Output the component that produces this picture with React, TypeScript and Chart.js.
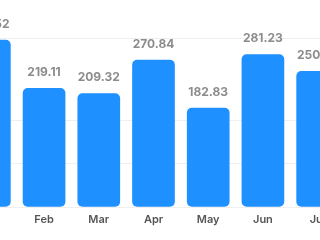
import React, { useEffect, useRef } from "react";
import { Chart, registerables } from "chart.js";

Chart.register(...registerables);

const months = ["Jan", "Feb", "Mar", "Apr", "May", "Jun", "Jul"];
const values = [307.52, 219.11, 209.32, 270.84, 182.83, 281.23, 250.37];
const yMax = 310;
const gridValues = [0, 80, 160, 310];

const valueLabels = {
  id: "valueLabels",
  afterDatasetsDraw(chart: any) {
    const ctx = chart.ctx;
    const meta = chart.getDatasetMeta(0);
    ctx.save();
    ctx.font = "700 12px Inter, 'Open Sans', sans-serif";
    ctx.fillStyle = "#8c8c8c";
    ctx.textAlign = "center";
    ctx.textBaseline = "middle";
    meta.data.forEach((bar: any, i: number) => {
      ctx.fillText(values[i].toFixed(2), bar.x, bar.y - 15.5);
    });
    ctx.restore();
  },
};

export default function App() {
  const ref = useRef<HTMLCanvasElement>(null);
  useEffect(() => {
    if (!ref.current) return;
    const chart = new Chart(ref.current, {
      type: "bar",
      data: {
        labels: months,
        datasets: [
          {
            data: values,
            backgroundColor: "#1e90ff",
            borderRadius: 5,
            borderSkipped: false,
            barPercentage: 1,
            categoryPercentage: 0.78,
          },
        ],
      },
      options: {
        responsive: false,
        animation: false,
        layout: { padding: { top: 38.5, left: 0, right: 0, bottom: 0 } },
        plugins: { legend: { display: false }, tooltip: { enabled: false } },
        scales: {
          x: {
            grid: { display: false, drawTicks: false },
            border: { display: false },
            ticks: {
              color: "#555555",
              padding: 6,
              font: { family: "Inter, 'Open Sans', sans-serif", size: 11, weight: 600 },
            },
            afterFit: (s: any) => {
              s.height = 240 - 207.3;
            },
          },
          y: {
            min: 0,
            max: yMax,
            ticks: { display: false },
            grid: { color: "#efefef", drawTicks: false },
            border: { display: false },
            afterBuildTicks: (s: any) => {
              s.ticks = gridValues.map((v) => ({ value: v }));
            },
            afterFit: (s: any) => {
              s.width = 0;
            },
          },
        },
      },
      plugins: [valueLabels],
    });
    return () => chart.destroy();
  }, []);
  return (
    <canvas
      ref={ref}
      width={383}
      height={240}
      style={{ position: "fixed", left: -38, top: 0, width: 383, height: 240 }}
    />
  );
}
